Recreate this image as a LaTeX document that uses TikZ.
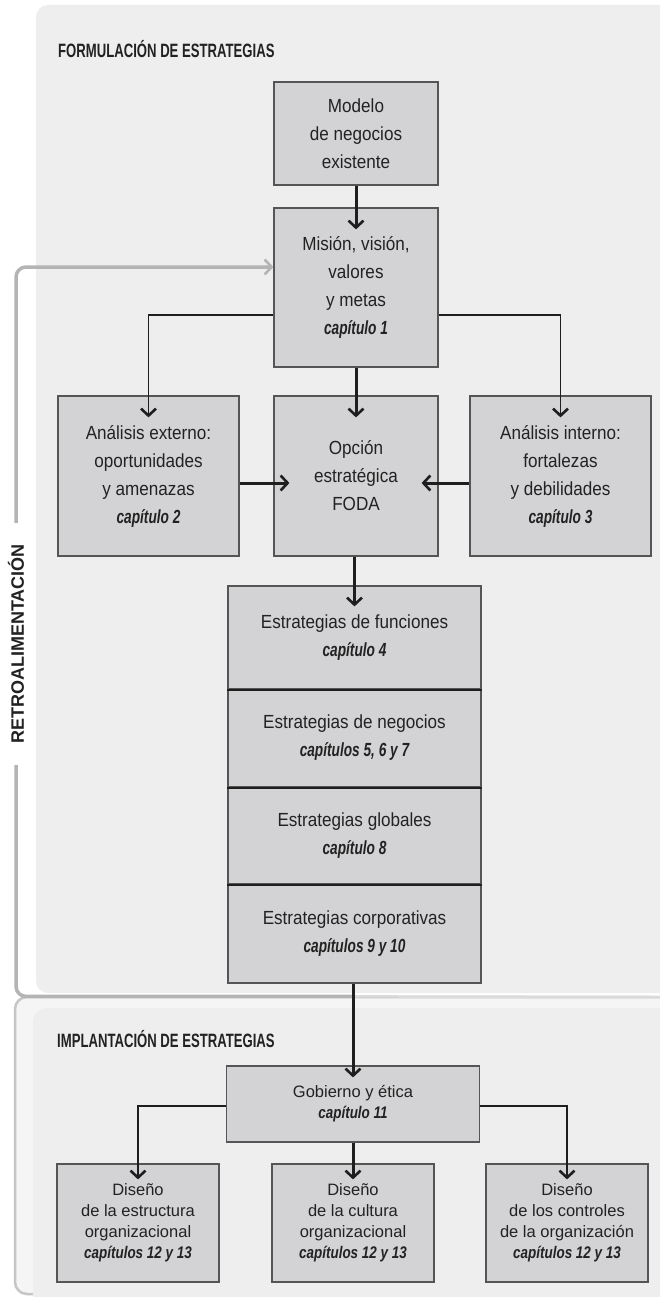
\documentclass[tikz,border=0pt]{standalone}
\usepackage{fontspec}
\setmainfont{Liberation Sans}
\newfontfamily\bodyf{Liberation Sans}[FakeStretch=0.9]
\newfontfamily\chapf{Liberation Sans}[FakeStretch=0.72]
\newfontfamily\chapg{Liberation Sans}[FakeStretch=0.8]
\newfontfamily\titlef{Liberation Sans}[FakeStretch=0.68]
\usetikzlibrary{arrows.meta}
\definecolor{panel}{HTML}{EEEEEE}
\definecolor{boxfill}{HTML}{D3D3D5}
\definecolor{boxline}{HTML}{555555}
\definecolor{ink}{HTML}{222222}
\definecolor{arrowink}{HTML}{1E1E1E}
\definecolor{fbgray}{HTML}{B4B4B4}
\definecolor{framegray}{HTML}{C6C6C6}
\definecolor{shadowgray}{HTML}{DADADA}
\newcommand{\chapu}[1]{{\chapf\bfseries\itshape\fontsize{19}{28}\selectfont #1}}
\newcommand{\chapl}[1]{{\chapg\bfseries\itshape\fontsize{16.8}{21}\selectfont #1}}
\begin{document}
\begin{tikzpicture}[x=1pt,y=-1pt,
  box/.style={draw=boxline, fill=boxfill, line width=1.2pt, inner sep=0pt, align=center, text=ink},
  ubox/.style={box, font=\bodyf\fontsize{19}{28}\selectfont},
  lbox/.style={box, font=\fontsize{16.5}{21}\selectfont},
  tip/.style={-{Straight Barb[length=7pt,width=15pt,line width=2.6pt]}},
  main/.style={draw=arrowink, line width=3pt, tip},
  branch/.style={draw=arrowink, line width=1.9pt, tip},
  divider/.style={draw=arrowink, line width=2.2pt},
  fb/.style={draw=fbgray, line width=3.5pt},
  title/.style={anchor=base west, inner sep=0pt, text=ink, font=\titlef\bfseries\fontsize{19.3}{22}\selectfont}
]
% canvas and panels
\path[use as bounding box, fill=white] (0,0) rectangle (660,1297);
\fill[panel, rounded corners=12pt] (36,5) rectangle (700,993);
\draw[draw=framegray, fill=white!96!black, line width=2.5pt, rounded corners=12pt] (15,997) rectangle (720,1294);
\fill[panel, rounded corners=14pt] (33,1008) rectangle (720,1330);

% titles
\node[title] (t1) at (58,57.5) {FORMULACIÓN DE ESTRATEGIAS};
\node[title] (t2) at (57,1047) {IMPLANTACIÓN DE ESTRATEGIAS};

% upper boxes
\node[ubox, minimum width=164, minimum height=103] (mod) at (356,133.5) {Modelo\\de negocios\\existente};
\node[ubox, minimum width=164, minimum height=159] (mis) at (356,287.5) {Misión, visión,\\valores\\y metas\\\chapu{capítulo 1}};
\node[ubox, minimum width=181, minimum height=160] (ext) at (148.5,476) {Análisis externo:\\oportunidades\\y amenazas\\\chapu{capítulo 2}};
\node[ubox, minimum width=164, minimum height=160] (foda) at (356,476) {Opción\\estratégica\\FODA};
\node[ubox, minimum width=181, minimum height=160] (int) at (560.5,476) {Análisis interno:\\fortalezas\\y debilidades\\\chapu{capítulo 3}};

% strategy stack
\node[ubox, minimum width=253, minimum height=103] (s1) at (354.5,637.5) {Estrategias de funciones\\\chapu{capítulo 4}};
\node[ubox, minimum width=253, minimum height=98] (s2) at (354.5,738) {Estrategias de negocios\\\chapu{capítulos 5, 6 y 7}};
\node[ubox, minimum width=253, minimum height=97] (s3) at (354.5,835.5) {Estrategias globales\\\chapu{capítulo 8}};
\node[ubox, minimum width=253, minimum height=99] (s4) at (354.5,933.5) {Estrategias corporativas\\\chapu{capítulos 9 y 10}};
\draw[divider] (s1.south west) -- (s1.south east);
\draw[divider] (s2.south west) -- (s2.south east);
\draw[divider] (s3.south west) -- (s3.south east);

% lower boxes
\node[lbox, minimum width=253, minimum height=76] (gob) at (353,1104) {Gobierno y ética\\\chapl{capítulo 11}};
\node[lbox, minimum width=162, minimum height=118] (d1) at (138,1223) {Diseño\\de la estructura\\organizacional\\\chapl{capítulos 12 y 13}};
\node[lbox, minimum width=162, minimum height=118] (d2) at (353,1223) {Diseño\\de la cultura\\organizacional\\\chapl{capítulos 12 y 13}};
\node[lbox, minimum width=162, minimum height=118] (d3) at (567,1223) {Diseño\\de los controles\\de la organización\\\chapl{capítulos 12 y 13}};

% feedback loop
\node[rotate=90, inner xsep=21pt, inner ysep=0pt, text=ink, font=\bfseries\fontsize{18}{20}\selectfont] (retro) at (16,644) {RETROALIMENTACIÓN};
\path (gob.north) ++(0,-69) coordinate (fbj);
\coordinate (frameend) at (660,997);
\draw[draw=shadowgray, line width=2.5pt] (fbj) -- (frameend);
\draw[fb, rounded corners=10pt] (fbj) -| (retro.west);
\draw[fb, rounded corners=10pt, -{Straight Barb[length=7pt,width=15pt,line width=2.6pt]}] (retro.east) |- (mis.west |- 0,267);

% upper connectors
\draw[main] (mod.south) -- ([yshift=-22pt]mis.north);
\draw[branch] (mis.west |- 0,315) -| ([yshift=-22pt]ext.north);
\draw[branch] (mis.east |- 0,315) -| ([yshift=-22pt]int.north);
\draw[main] (mis.south) -- ([yshift=-22pt]foda.north);
\draw[main] (ext.east |- 0,483) -- ([xshift=16pt]foda.west |- 0,483);
\draw[main] (int.west |- 0,483) -- ([xshift=-17pt]foda.east |- 0,483);
\draw[main] (foda.south -| s1.north) -- ([yshift=-21pt]s1.north);

% lower connectors
\draw[main] (s4.south -| gob.north) -- ([yshift=-12pt]gob.north);
\draw[branch] (gob.west |- 0,1106) -| ([yshift=-16pt]d1.north);
\draw[branch] (gob.east |- 0,1106) -| ([yshift=-16pt]d3.north);
\draw[main] (gob.south -| d2.north) -- ([yshift=-16pt]d2.north);
\end{tikzpicture}
\end{document}
